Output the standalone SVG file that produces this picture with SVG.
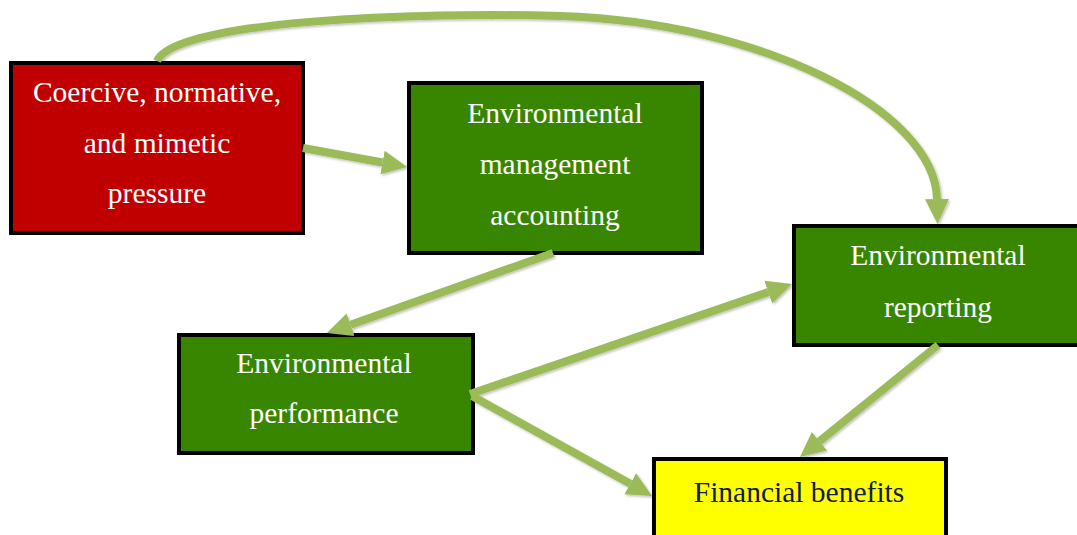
<svg xmlns="http://www.w3.org/2000/svg" width="1077" height="535" viewBox="0 0 1077 535">
  <style>
    .box { stroke: #000000; stroke-width: 4; }
    .red { fill: #C00000; }
    .green { fill: #388500; }
    .yellow { fill: #FFFF00; }
    .lbl { font-family: "Liberation Serif", "Times New Roman", serif; font-size: 29.5px; fill: #FFFFFF; text-anchor: middle; }
    .dark { fill: #0F1C4E; }
    .link { fill: none; stroke: #9BBB59; stroke-width: 8; marker-end: url(#ah); }
  </style>
  <defs>
    <marker id="ah" markerUnits="userSpaceOnUse" markerWidth="27" markerHeight="26" refX="0" refY="13" orient="auto" viewBox="0 0 27 26">
      <path d="M0,1 L25,13 L0,25 z" fill="#9BBB59"/>
    </marker>
    <filter id="soft" x="-10%" y="-10%" width="120%" height="120%">
      <feDropShadow dx="1.5" dy="1.5" stdDeviation="1.2" flood-color="#000000" flood-opacity="0.25"/>
    </filter>
  </defs>

  <rect width="1077" height="535" fill="#FFFFFF"/>

  <!-- nodes -->
  <g id="pressure">
    <rect class="box red" x="11" y="63" width="292" height="170"/>
    <text class="lbl" x="157" y="102">Coercive, normative,</text>
    <text class="lbl" x="157" y="153">and mimetic</text>
    <text class="lbl" x="157" y="203">pressure</text>
  </g>

  <g id="ema">
    <rect class="box green" x="409" y="83" width="293" height="170"/>
    <text class="lbl" x="555" y="123">Environmental</text>
    <text class="lbl" x="555" y="174">management</text>
    <text class="lbl" x="555" y="225">accounting</text>
  </g>

  <g id="reporting">
    <rect class="box green" x="794" y="226" width="290" height="119"/>
    <text class="lbl" x="938" y="265">Environmental</text>
    <text class="lbl" x="938" y="317">reporting</text>
  </g>

  <g id="performance">
    <rect class="box green" x="179" y="335" width="294" height="118"/>
    <text class="lbl" x="324" y="373">Environmental</text>
    <text class="lbl" x="324" y="423">performance</text>
  </g>

  <g id="financial">
    <rect class="box yellow" x="654" y="459" width="292" height="90"/>
    <text class="lbl dark" x="799" y="502">Financial benefits</text>
  </g>

  <!-- connectors -->
  <g id="connectors" filter="url(#soft)">
    <path class="link" d="M157,61 C175,20 420,12 560,16 C760,22 935,110 937,199"/>
    <path class="link" d="M303,148 L382.5,162.5"/>
    <path class="link" d="M553,253 L350.5,324.7"/>
    <path class="link" d="M470,394 L768.3,292.1"/>
    <path class="link" d="M472,396 L630.2,483.8"/>
    <path class="link" d="M938,345 L819.4,441.3"/>
  </g>
</svg>
